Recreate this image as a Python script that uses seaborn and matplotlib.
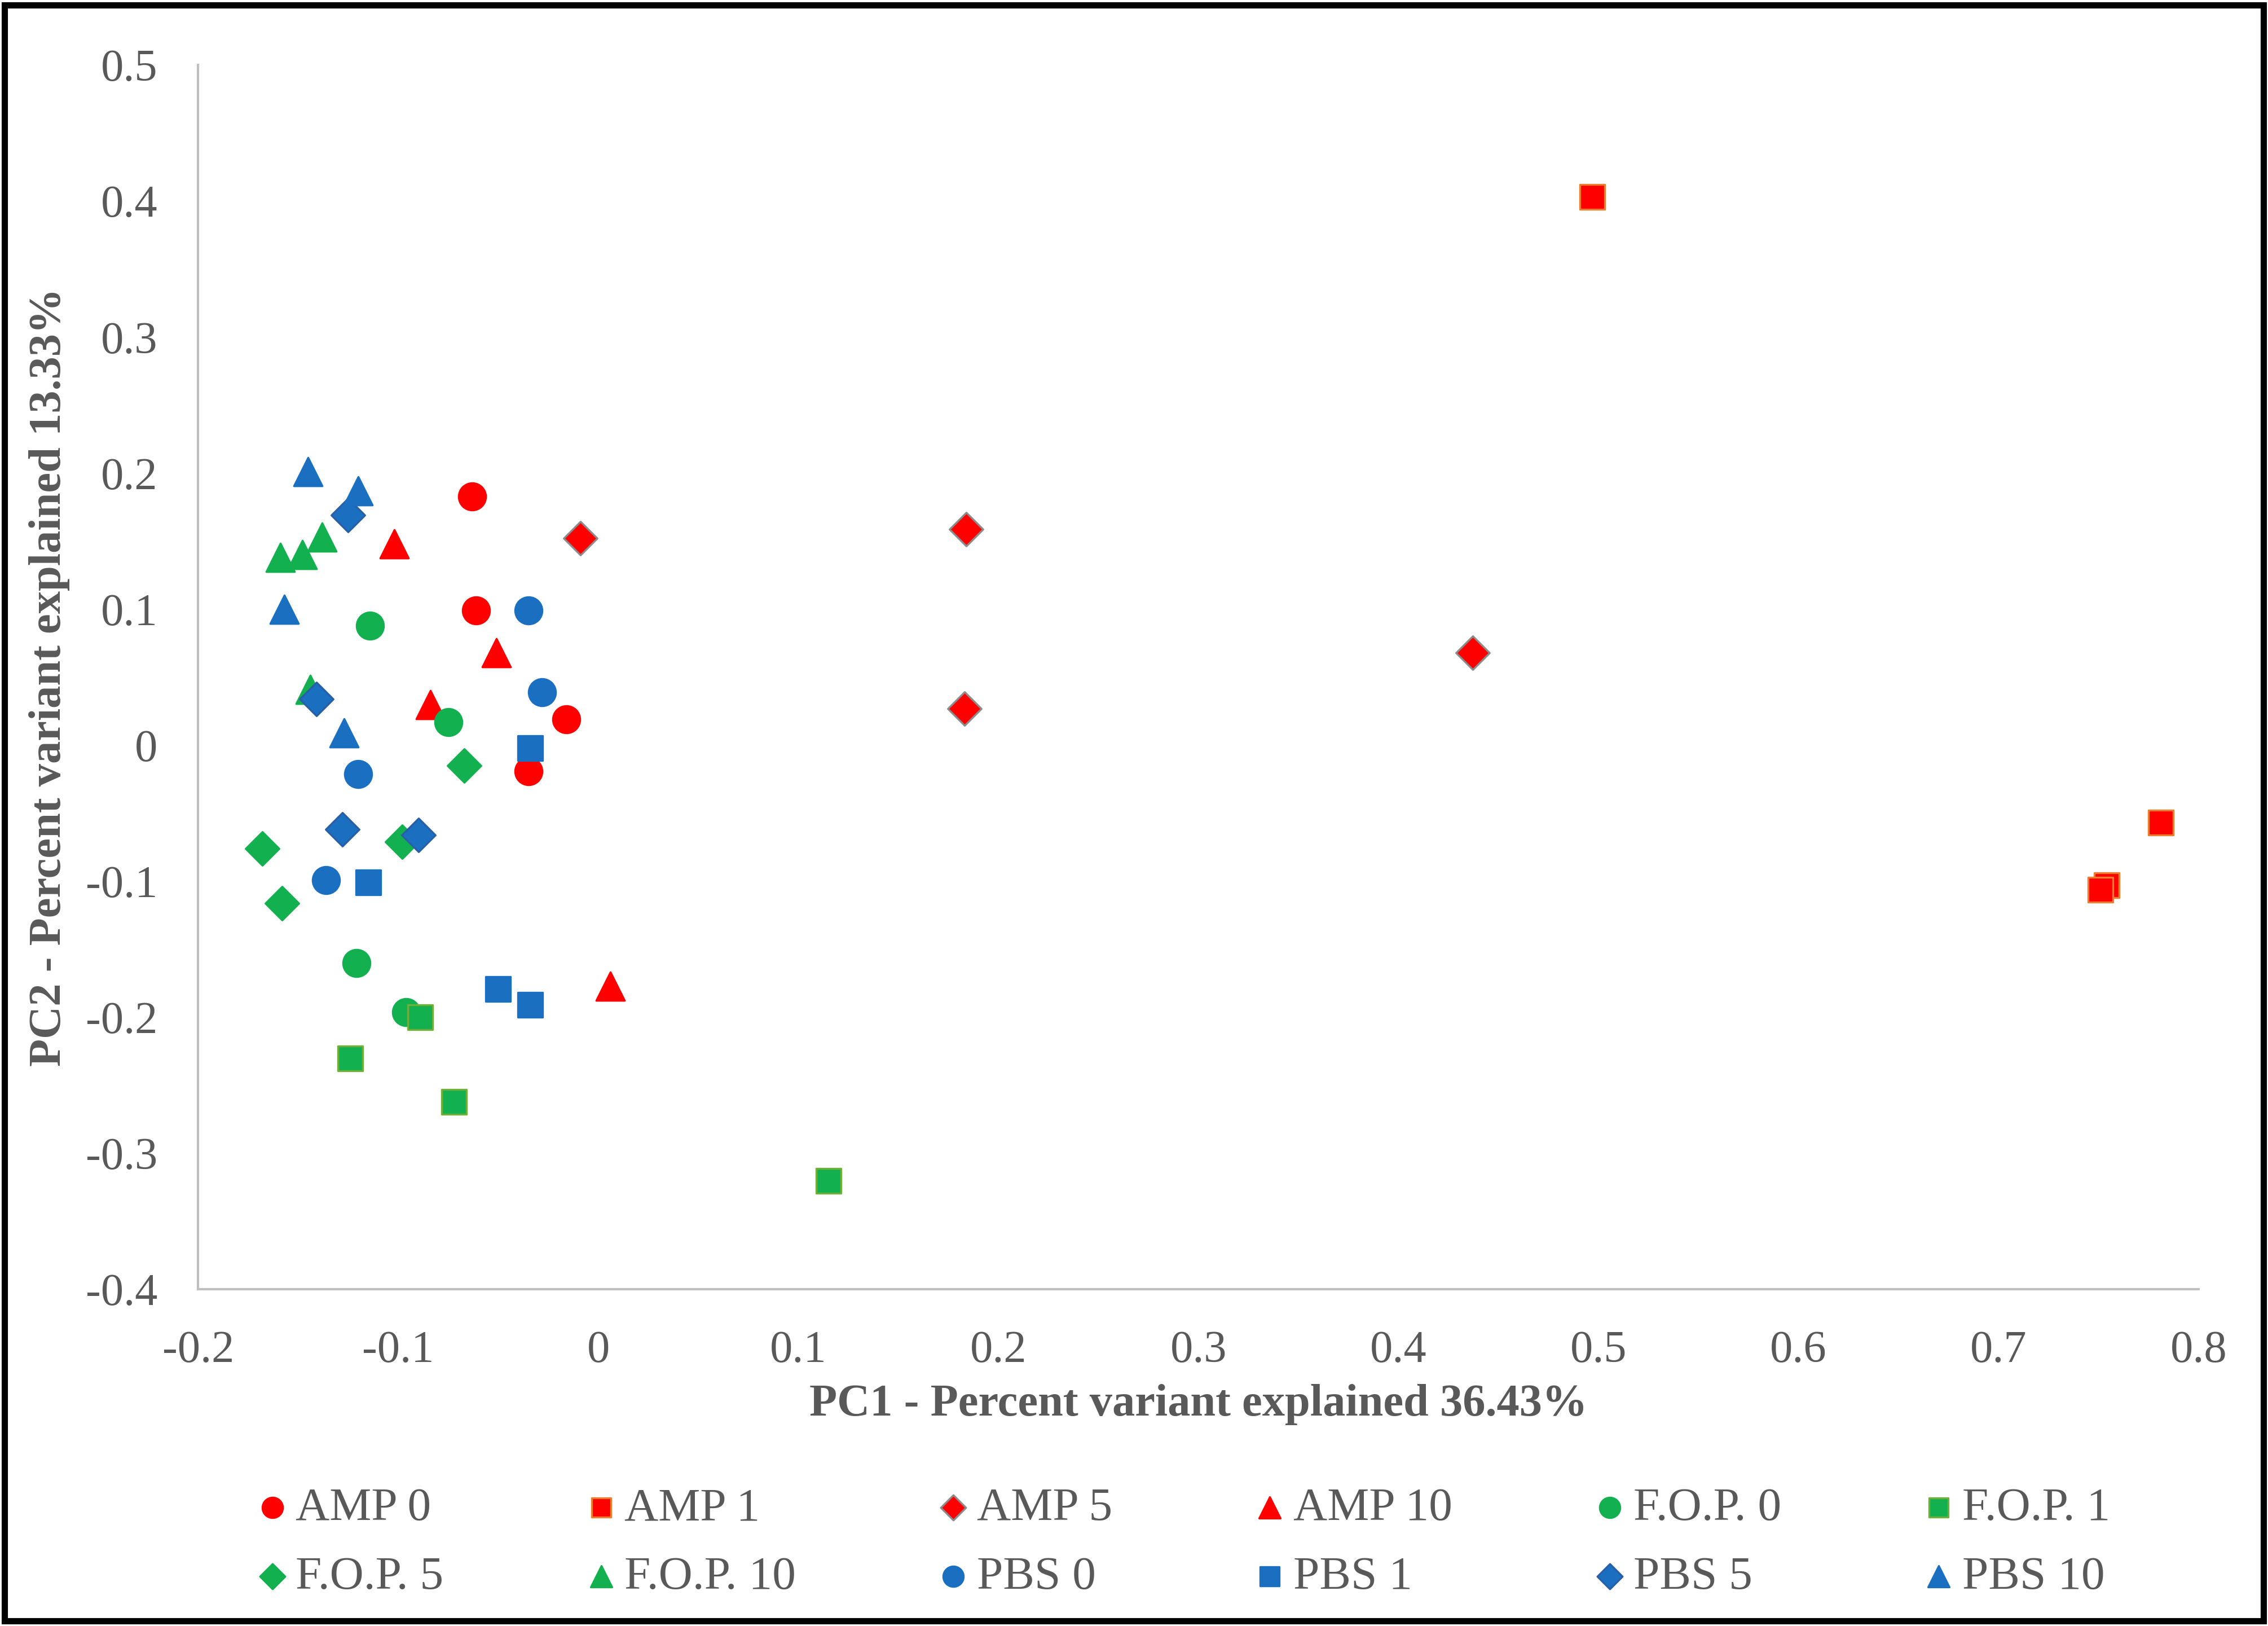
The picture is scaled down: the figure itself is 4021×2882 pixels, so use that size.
import numpy as np
import pandas as pd
import matplotlib
matplotlib.use('Agg')
import matplotlib.pyplot as plt
from matplotlib.patches import Rectangle
import seaborn as sns

# --- データ ---
groups = ['AMP 0', 'AMP 1', 'AMP 5', 'AMP 10',
          'F.O.P. 0', 'F.O.P. 1', 'F.O.P. 5', 'F.O.P. 10',
          'PBS 0', 'PBS 1', 'PBS 5', 'PBS 10']

amp0_x = [-0.063, -0.061, -0.016, -0.035]
amp0_y = [0.183, 0.099, 0.019, -0.019]
amp1_x = [0.497, 0.781, 0.754, 0.751]
amp1_y = [0.403, -0.057, -0.103, -0.106]
amp5_x = [-0.009, 0.184, 0.437, 0.183]
amp5_y = [0.152, 0.159, 0.068, 0.027]
amp10_x = [-0.102, -0.051, -0.084, 0.006]
amp10_y = [0.148, 0.068, 0.030, -0.177]
fop0_x = [-0.114, -0.075, -0.121, -0.096]
fop0_y = [0.088, 0.017, -0.160, -0.196]
fop1_x = [-0.089, -0.124, -0.072, 0.115]
fop1_y = [-0.200, -0.230, -0.262, -0.320]
fop5_x = [-0.067, -0.168, -0.098, -0.158]
fop5_y = [-0.015, -0.076, -0.071, -0.116]
fop10_x = [-0.159, -0.148, -0.138, -0.144]
fop10_y = [0.138, 0.140, 0.153, 0.041]
pbs0_x = [-0.035, -0.028, -0.120, -0.136]
pbs0_y = [0.099, 0.039, -0.021, -0.099]
pbs1_x = [-0.034, -0.115, -0.050, -0.034]
pbs1_y = [-0.002, -0.101, -0.179, -0.191]
pbs5_x = [-0.125, -0.141, -0.128, -0.090]
pbs5_y = [0.169, 0.034, -0.062, -0.066]
pbs10_x = [-0.145, -0.120, -0.157, -0.127]
pbs10_y = [0.201, 0.187, 0.100, 0.009]

xs = [amp0_x, amp1_x, amp5_x, amp10_x, fop0_x, fop1_x, fop5_x, fop10_x,
      pbs0_x, pbs1_x, pbs5_x, pbs10_x]
ys = [amp0_y, amp1_y, amp5_y, amp10_y, fop0_y, fop1_y, fop5_y, fop10_y,
      pbs0_y, pbs1_y, pbs5_y, pbs10_y]

red, green, blue = '#FF0000', '#12B04E', '#1A6FC1'
colors = [red] * 4 + [green] * 4 + [blue] * 4
markers = ['o', 's', 'D', '^'] * 3
edges = [red, '#ED7D31', '#8C8C8C', red,
         green, '#6FAF3A', green, green,
         blue, blue, '#2860A8', blue]
sizes = [300, 260, 230, 330] * 3

df = pd.concat([pd.DataFrame({'PC1': x, 'PC2': y, 'group': g})
                for g, x, y in zip(groups, xs, ys)], ignore_index=True)

# --- 描画 ---
sns.set_style('white')
plt.rcParams['font.family'] = ['Liberation Serif', 'DejaVu Serif']

fig = plt.figure(figsize=(20.105, 14.41), dpi=200)
ax = fig.add_axes([0.0874, 0.207, 0.8820, 0.753])

for g, c, m, e, s in zip(groups, colors, markers, edges, sizes):
    sns.scatterplot(data=df[df['group'] == g], x='PC1', y='PC2', color=c,
                    marker=m, edgecolor=e, linewidth=1.2, s=s, label=g, ax=ax,
                    zorder=3)

ax.set_xlim(-0.2, 0.8)
ax.set_ylim(-0.4, 0.5)
ax.set_xticks(np.arange(-0.2, 0.81, 0.1))
ax.set_yticks(np.arange(-0.4, 0.51, 0.1))
ax.set_xticklabels(['-0.2', '-0.1', '0', '0.1', '0.2', '0.3', '0.4', '0.5',
                    '0.6', '0.7', '0.8'])
ax.set_yticklabels(['-0.4', '-0.3', '-0.2', '-0.1', '0', '0.1', '0.2', '0.3',
                    '0.4', '0.5'])
ax.tick_params(axis='both', length=0, labelsize=29, colors='#595959', pad=26)

for side in ['top', 'right']:
    ax.spines[side].set_visible(False)
for side in ['left', 'bottom']:
    ax.spines[side].set_color('#BFBFBF')
    ax.spines[side].set_linewidth(1.5)

ax.set_xlabel('PC1 - Percent variant explained 36.43%', fontsize=29,
              fontweight='bold', color='#595959', labelpad=8)
ax.set_ylabel('PC2 - Percent variant explained 13.33%', fontsize=29,
              fontweight='bold', color='#595959', labelpad=10)

# 凡例: 行ごとに並べるため列優先に並べ替え
handles, labels = ax.get_legend_handles_labels()
ax.legend_.remove()
order = [i + r * 6 for i in range(6) for r in range(2)]
fig.legend([handles[i] for i in order], [labels[i] for i in order],
           loc='center', bbox_to_anchor=(0.520, 0.051), ncol=6, frameon=False,
           fontsize=30, labelcolor='#595959', handletextpad=0.0,
           columnspacing=2.85, markerscale=0.75, handlelength=1.0,
           labelspacing=0.55)

# 外枠
fig.patches.append(Rectangle((0.002, 0.003), 0.996, 0.994,
                             transform=fig.transFigure, fill=False,
                             edgecolor='black', linewidth=4))

fig.savefig('out.png', dpi=200)
